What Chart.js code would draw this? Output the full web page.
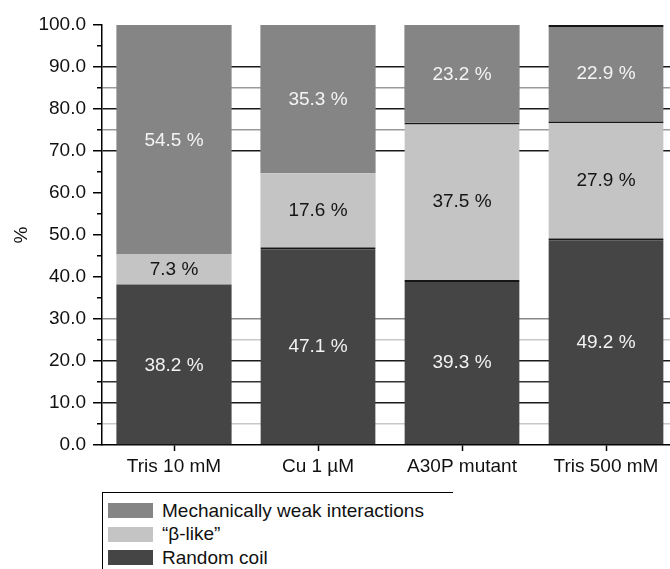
<!DOCTYPE html>
<html>
<head>
<meta charset="utf-8">
<script src="https://cdn.jsdelivr.net/npm/chart.js@4/dist/chart.umd.min.js"></script>
<style>
  html, body { margin: 0; padding: 0; background: #fff; }
  #wrap { position: relative; width: 670px; height: 569px; overflow: hidden; }
  #chart { position: absolute; left: 0; top: 0; }
  #legend {
    position: absolute; left: 102px; top: 492px; width: 351px; height: 90px;
    border-top: 1px solid #000; border-left: 1px solid #000;
    font: 19px "Liberation Sans", Arial, sans-serif; color: #111;
    padding-top: 6px; box-sizing: border-box;
  }
  #legend .row { display: flex; align-items: center; height: 23.5px; }
  #legend .sw { width: 45px; height: 15px; margin: 0 9px 0 5px; }
</style>
</head>
<body>
<div id="wrap">
  <canvas id="chart" width="680" height="490"></canvas>
  <div id="legend"></div>
</div>
<script>
const conditions = ['Tris 10 mM', 'Cu 1 \u00b5M', 'A30P mutant', 'Tris 500 mM'];
const randomCoil = [38.2, 47.1, 39.3, 49.2];
const betaLike = [7.3, 17.6, 37.5, 27.9];
const weakInteractions = [54.5, 35.3, 23.2, 22.9];

// which segments get a dark rule along their top edge
const topRule = {
  coil: [0, 1, 1, 1],
  beta: [0, 0, 1, 1],
  weak: [0, 0, 0, 1]
};

Chart.defaults.font.family = '"Liberation Sans", Arial, sans-serif';
Chart.defaults.font.size = 19;
Chart.defaults.color = '#111';

function edge(list) {
  return (c) => ({ top: list[c.dataIndex] ? 2 : 0, left: 0, right: 0, bottom: 0 });
}

// horizontal rules only show up in a few bands
function gridColor(v) {
  if ([90, 80, 70, 20, 10].includes(v)) return '#1a1a1a';
  if (v === 15) return '#333';
  if (v === 30) return '#888';
  if ([85, 75].includes(v)) return '#9a9a9a';
  if ([25, 5].includes(v)) return '#c8c8c8';
  return 'rgba(0,0,0,0)';
}

const valueLabels = {
  id: 'valueLabels',
  afterDatasetsDraw(chart) {
    const ctx = chart.ctx;
    ctx.save();
    ctx.font = '19px "Liberation Sans", Arial, sans-serif';
    ctx.textAlign = 'center';
    ctx.textBaseline = 'middle';
    chart.data.datasets.forEach((ds, i) => {
      ctx.fillStyle = ds.labelColor;
      chart.getDatasetMeta(i).data.forEach((bar, j) => {
        ctx.fillText(ds.data[j].toFixed(1) + ' %', bar.x, (bar.y + bar.base) / 2 + 1);
      });
    });
    ctx.restore();
  }
};

const chart = new Chart(document.getElementById('chart'), {
  type: 'bar',
  data: {
    labels: conditions,
    datasets: [
      { label: 'Random coil', data: randomCoil, backgroundColor: '#454545', labelColor: '#f2f2f2',
        borderColor: '#161616', borderWidth: edge(topRule.coil) },
      { label: '\u201c\u03b2-like\u201d', data: betaLike, backgroundColor: '#c4c4c4', labelColor: '#151515',
        borderColor: '#161616', borderWidth: edge(topRule.beta) },
      { label: 'Mechanically weak interactions', data: weakInteractions, backgroundColor: '#858585', labelColor: '#f4f4f4',
        borderColor: '#161616', borderWidth: edge(topRule.weak) }
    ]
  },
  options: {
    responsive: false,
    animation: false,
    devicePixelRatio: 1,
    layout: { padding: { top: 25, right: 2, left: 0, bottom: 0 } },
    datasets: { bar: { categoryPercentage: 1, barPercentage: 0.8 } },
    plugins: { legend: { display: false }, tooltip: { enabled: false } },
    scales: {
      x: {
        stacked: true,
        afterFit(s) { s.height = 45; },
        border: { color: '#000', width: 1.5 },
        grid: { offset: false, drawOnChartArea: false, tickLength: 6, color: '#000', tickWidth: 1.5 },
        ticks: { padding: 4, color: '#111' }
      },
      y: {
        stacked: true,
        min: 0,
        max: 100,
        afterFit(s) { s.width = 102; },
        border: { color: '#000', width: 1.5 },
        title: { display: true, text: '%', padding: { top: 10 }, color: '#111' },
        grid: {
          color: (c) => gridColor(c.tick.value),
          lineWidth: 1.5,
          tickLength: 9,
          tickColor: '#000',
          tickWidth: 1.5,
          tickBorderDash: (c) => c.tick.value % 10 === 0 ? [] : [0, 4, 5, 0]
        },
        ticks: {
          stepSize: 5,
          autoSkip: false,
          padding: 7,
          color: '#111',
          callback: (v) => v % 10 === 0 ? v.toFixed(1) : ''
        }
      }
    }
  },
  plugins: [valueLabels]
});

// legend box listed top-down, matching the stack order
const legend = document.getElementById('legend');
chart.data.datasets.slice().reverse().forEach((ds) => {
  const row = document.createElement('div');
  row.className = 'row';
  const sw = document.createElement('span');
  sw.className = 'sw';
  sw.style.background = ds.backgroundColor;
  const txt = document.createElement('span');
  txt.textContent = ds.label;
  row.appendChild(sw);
  row.appendChild(txt);
  legend.appendChild(row);
});
</script>
</body>
</html>
